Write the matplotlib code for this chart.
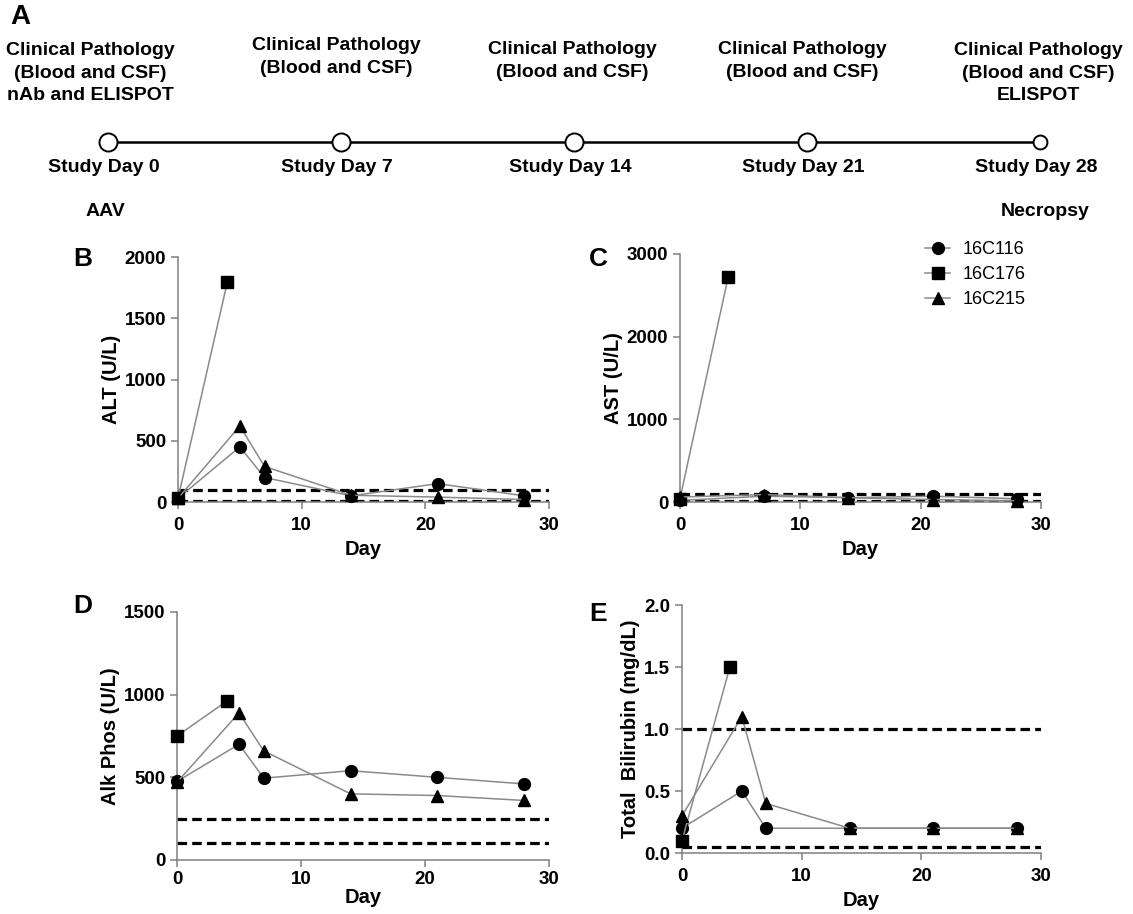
import numpy as np
import matplotlib
matplotlib.use("Agg")
import matplotlib.pyplot as plt

plt.rcParams["font.family"] = ["Liberation Sans", "DejaVu Sans"]

# ---- data ----
IDS = ["16C116", "16C176", "16C215"]
MARKERS = {"16C116": "o", "16C176": "s", "16C215": "^"}

# ALT (U/L)
alt_days = {"16C116": [0, 5, 7, 14, 21, 28], "16C176": [0, 4], "16C215": [0, 5, 7, 14, 21, 28]}
alt_vals = {"16C116": [30, 450, 200, 50, 150, 50], "16C176": [30, 1800], "16C215": [30, 620, 290, 55, 40, 20]}
alt_ref = [5, 100]

# AST (U/L)
ast_days = {"16C116": [0, 7, 14, 21, 28], "16C176": [0, 4], "16C215": [0, 7, 14, 21, 28]}
ast_vals = {"16C116": [20, 70, 52, 70, 40], "16C176": [40, 2720], "16C215": [60, 90, 52, 30, 15]}
ast_ref = [10, 100]

# Alk Phos (U/L)
alp_days = {"16C116": [0, 5, 7, 14, 21, 28], "16C176": [0, 4], "16C215": [0, 5, 7, 14, 21, 28]}
alp_vals = {"16C116": [475, 700, 495, 540, 500, 460], "16C176": [750, 960], "16C215": [470, 890, 660, 400, 390, 360]}
alp_ref = [100, 250]

# Total bilirubin (mg/dL)
bil_days = {"16C116": [0, 5, 7, 14, 21, 28], "16C176": [0, 4], "16C215": [0, 5, 7, 14, 21, 28]}
bil_vals = {"16C116": [0.2, 0.5, 0.2, 0.2, 0.2, 0.2], "16C176": [0.1, 1.5], "16C215": [0.3, 1.1, 0.4, 0.2, 0.2, 0.2]}
bil_ref = [0.05, 1.0]

# timeline
tl_days = [0, 7, 14, 21, 28]
tl_top = ["Clinical Pathology\n(Blood and CSF)\nnAb and ELISPOT",
          "Clinical Pathology\n(Blood and CSF)",
          "Clinical Pathology\n(Blood and CSF)",
          "Clinical Pathology\n(Blood and CSF)",
          "Clinical Pathology\n(Blood and CSF)\nELISPOT"]
tl_bottom = ["Study Day 0", "Study Day 7", "Study Day 14", "Study Day 21", "Study Day 28"]
tl_events = {0: "AAV", 28: "Necropsy"}

# ---- style ----
W, H = 1133, 914
GREY = "#808080"
LINE_GREY = "#8a8a8a"
FS_TICK = 13.5
FS_LAB = 14.5
FS_PANEL = 19

fig = plt.figure(figsize=(W / 100, H / 100), dpi=100)

def px_axes(left, top, right, bottom):
    return fig.add_axes([left / W, 1 - bottom / H, (right - left) / W, (bottom - top) / H])

# ---- panel A: timeline ----
axa = px_axes(0, 0, W, 230)
ppd = (1040 - 108) / 28.0
axa.set_xlim(-108 / ppd, (W - 108) / ppd)
axa.set_ylim(230, 0)
axa.axis("off")
axa.plot(tl_days, [142] * len(tl_days), color="black", lw=1.8, zorder=1)
sizes = [13, 13, 13, 13, 10]
for d, ms in zip(tl_days, sizes):
    axa.plot(d, 142, "o", ms=ms, mfc="white", mec="black", mew=1.4, zorder=2)
top_dx = [-18, -5, -2, -5, -2]   # px offsets of text blocks
top_y = [73, 57, 61, 61, 73]
for d, txt, dx, ty in zip(tl_days, tl_top, top_dx, top_y):
    axa.text(d + dx / ppd, ty, txt, ha="center", va="center", fontsize=14,
             fontweight="bold", linespacing=1.45)
for d, txt in zip(tl_days, tl_bottom):
    axa.text(d - 4 / ppd, 168, txt, ha="center", va="center", fontsize=14, fontweight="bold")
for d, txt in tl_events.items():
    axa.text(d + (-3 if d == 0 else 5) / ppd, 211, txt, ha="center", va="center",
             fontsize=14, fontweight="bold")
fig.text(10 / W, 1 - 17 / H, "A", fontsize=FS_PANEL + 1, fontweight="bold", va="center", ha="left")

# ---- lab panels ----
def lab_panel(box, days, vals, ref, ylim, yticks, ylabel, letter, letter_xy,
              fmt=None, xpad=6, xlabelpad=4):
    ax = px_axes(*box)
    for sid in IDS:
        ax.plot(days[sid], vals[sid], color=LINE_GREY, lw=1.1, marker=MARKERS[sid],
                ms=8.5 if MARKERS[sid] != "^" else 9, mfc="black", mec="black",
                clip_on=False, zorder=3, label=sid)
    for r in ref:
        ax.axhline(r, color="black", lw=2.3, dashes=(3, 1.6), zorder=2)
    ax.set_xlim(0, 30)
    ax.set_ylim(*ylim)
    ax.set_xticks([0, 10, 20, 30])
    ax.set_yticks(yticks)
    if fmt:
        ax.set_yticklabels([fmt.format(t) for t in yticks])
    for sp in ["top", "right"]:
        ax.spines[sp].set_visible(False)
    for sp in ["left", "bottom"]:
        ax.spines[sp].set_color(GREY)
        ax.spines[sp].set_linewidth(1.1)
    ax.tick_params(colors=GREY, labelcolor="black", length=5, width=1.1, labelsize=FS_TICK)
    ax.tick_params(axis="x", pad=xpad)
    for lab in ax.get_xticklabels() + ax.get_yticklabels():
        lab.set_fontweight("bold")
    ax.set_xlabel("Day", fontsize=FS_LAB, fontweight="bold", labelpad=xlabelpad)
    ax.set_ylabel(ylabel, fontsize=FS_LAB, fontweight="bold", labelpad=3)
    fig.text(letter_xy[0] / W, 1 - letter_xy[1] / H, letter, fontsize=FS_PANEL,
             fontweight="bold", ha="center", va="center")
    return ax

lab_panel((178, 257, 549, 502), alt_days, alt_vals, alt_ref, (0, 2000),
          [0, 500, 1000, 1500, 2000], "ALT (U/L)", "B", (83, 259))
axc = lab_panel((680, 254, 1041, 502), ast_days, ast_vals, ast_ref, (0, 3000),
                [0, 1000, 2000, 3000], "AST (U/L)", "C", (598, 259))
lab_panel((177, 612, 549, 860), alp_days, alp_vals, alp_ref, (0, 1500),
          [0, 500, 1000, 1500], "Alk Phos (U/L)", "D", (83, 606), xpad=3, xlabelpad=0)
lab_panel((682, 605, 1041, 853), bil_days, bil_vals, bil_ref, (0, 2.0),
          [0, 0.5, 1.0, 1.5, 2.0], "Total  Bilirubin (mg/dL)", "E", (598, 614), fmt="{:.1f}")

handles, labels = axc.get_legend_handles_labels()
fig.legend(handles, labels, loc="upper left", bbox_to_anchor=(925 / W, 1 - 241 / H),
           frameon=False, fontsize=13, handlelength=1.4, handletextpad=0.7,
           labelspacing=0.45, borderpad=0, borderaxespad=0)

fig.savefig("out.png", dpi=100)
